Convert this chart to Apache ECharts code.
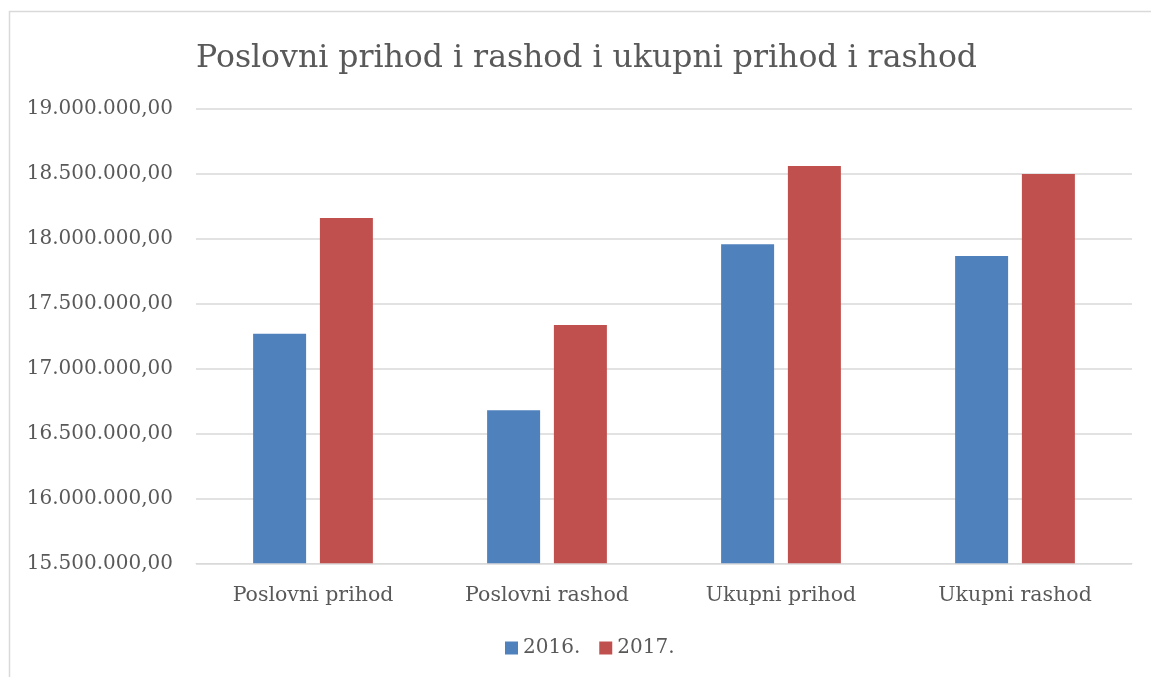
<!DOCTYPE html>
<html>
<head>
<meta charset="utf-8">
<script src="https://cdn.jsdelivr.net/npm/echarts@6/dist/echarts.min.js"></script>
<style>
  html, body { margin: 0; padding: 0; background: #fff; }
  #chart { width: 1151px; height: 677px; }
</style>
</head>
<body>
<div id="chart"></div>
<script>
// Categories and yearly values
const categories = ['Poslovni prihod', 'Poslovni rashod', 'Ukupni prihod', 'Ukupni rashod'];
const values2016 = [17266000, 16677000, 17954000, 17864000];
const values2017 = [18156000, 17333000, 18556000, 18495000];
const seriesNames = ['2016.', '2017.'];
const titleText = 'Poslovni prihod i rashod i ukupni prihod i rashod';

const FONT = '"DejaVu Serif", "Liberation Serif", serif';
const TEXT_COLOR = '#595959';

// 18500000 -> "18.500.000,00"
function formatAmount(v) {
  const parts = Math.round(v).toString().replace(/\B(?=(\d{3})+(?!\d))/g, '.');
  return parts + ',00';
}

const chart = echarts.init(document.getElementById('chart'), null, { renderer: 'canvas' });
chart.setOption({
  animation: false,
  backgroundColor: '#ffffff',
  title: {
    text: titleText,
    left: 191,
    top: 38,
    textStyle: { fontFamily: FONT, fontWeight: 'normal', fontSize: 31.5, color: TEXT_COLOR }
  },
  graphic: [{
    type: 'rect',
    shape: { x: 9.5, y: 11.5, width: 1200, height: 700 },
    style: { fill: 'none', stroke: '#d9d9d9', lineWidth: 1.5 },
    silent: true
  }],
  legend: {
    top: 633,
    left: 500,
    itemWidth: 13,
    itemHeight: 13,
    itemGap: 19,
    icon: 'rect',
    textStyle: { fontFamily: FONT, fontSize: 20, color: TEXT_COLOR },
    data: seriesNames
  },
  grid: { left: 196, right: 19, top: 108.3, bottom: 113.7, containLabel: false },
  xAxis: {
    type: 'category',
    data: categories,
    axisLine: { show: true, lineStyle: { color: '#d9d9d9', width: 1 } },
    axisTick: { show: false },
    axisLabel: { fontFamily: FONT, fontSize: 20.5, color: TEXT_COLOR, margin: 22 }
  },
  yAxis: {
    type: 'value',
    min: 15500000,
    max: 19000000,
    interval: 500000,
    axisLine: { show: false },
    axisTick: { show: false },
    splitLine: { lineStyle: { color: '#d9d9d9', width: 1.5 } },
    axisLabel: { fontFamily: FONT, fontSize: 20, color: TEXT_COLOR, margin: 23, formatter: formatAmount }
  },
  series: [
    {
      name: seriesNames[0], type: 'bar', data: values2016,
      barWidth: 53, barGap: '26%',
      itemStyle: { color: '#4F81BD' }
    },
    {
      name: seriesNames[1], type: 'bar', data: values2017,
      barWidth: 53, barGap: '26%',
      itemStyle: { color: '#C0504D' }
    }
  ]
});
</script>
</body>
</html>
